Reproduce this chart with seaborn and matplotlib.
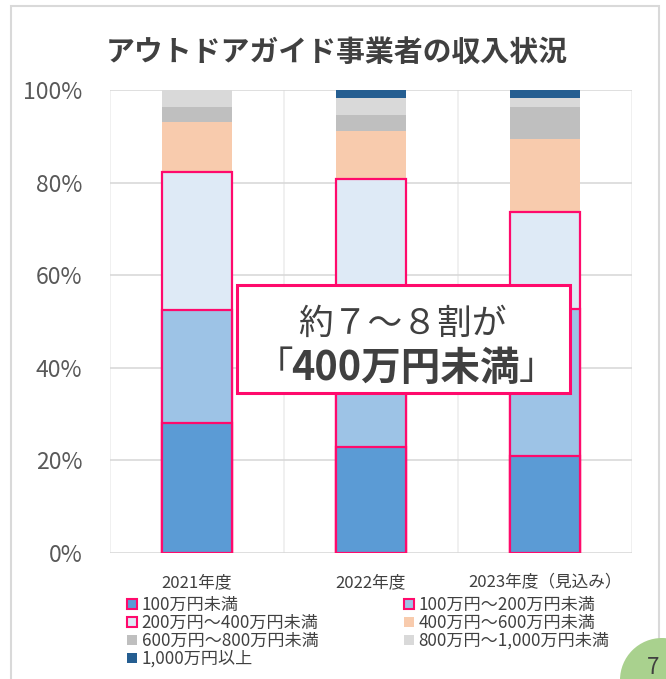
import numpy as np
import pandas as pd
import matplotlib
matplotlib.use('Agg')
import matplotlib.pyplot as plt
import seaborn as sns
from matplotlib.patches import Patch, Rectangle, Ellipse
from matplotlib.ticker import PercentFormatter

# データ（グラフから読み取った値, %）
years = ['2021年度', '2022年度', '2023年度（見込み）']
under_100 = [28.0, 22.9, 21.0]
r100_200 = [24.5, 28.1, 31.6]
r200_400 = [29.8, 29.7, 21.0]
r400_600 = [10.8, 10.5, 15.8]
r600_800 = [3.2, 3.5, 7.0]
r800_1000 = [3.7, 3.5, 1.8]
over_1000 = [0.0, 1.8, 1.8]

series_names = ['100万円未満', '100万円～200万円未満', '200万円～400万円未満',
                '400万円～600万円未満', '600万円～800万円未満',
                '800万円～1,000万円未満', '1,000万円以上']
series_colors = ['#5B9BD5', '#9DC3E6', '#DEEAF6', '#F8CBAD', '#BFBFBF', '#D9D9D9', '#255E91']
PINK = '#FF0A6C'
edged = [True, True, True, False, False, False, False]

sns.set_theme(style='white')
plt.rcParams['font.family'] = ['Noto Sans CJK JP', 'DejaVu Sans']

W, H = 666, 679
fig = plt.figure(figsize=(W / 100, H / 100), dpi=100)


def px(x, y):
    return x / W, 1 - y / H


ax_l, ax_b = px(110, 553)
ax_r, ax_t = px(632, 90)
ax = fig.add_axes([ax_l, ax_b, ax_r - ax_l, ax_t - ax_b])

df = pd.DataFrame({'year': years})
values = [under_100, r100_200, r200_400, r400_600, r600_800, r800_1000, over_1000]
cum = np.cumsum(np.array(values), axis=0) / 100.0

# 累積値を上の系列から順に重ねて描く（積み上げ棒）
for i in range(len(values) - 1, -1, -1):
    df['v'] = cum[i]
    sns.barplot(data=df, x='year', y='v', color=series_colors[i], saturation=1,
                width=0.40, edgecolor=PINK if edged[i] else 'none',
                linewidth=1.6 if edged[i] else 0, ax=ax, zorder=3)

ax.set_ylim(0, 1)
ax.set_xlim(-0.5, 2.5)
ax.yaxis.set_major_formatter(PercentFormatter(1.0, decimals=0))
ax.set_yticks(np.arange(0, 1.01, 0.2))
ax.set_xlabel('')
ax.set_ylabel('')
for s in ax.spines.values():
    s.set_visible(False)
ax.grid(True, axis='y', color='#D9D9D9', linewidth=1.2, zorder=0)
for xv in [-0.5, 0.5, 1.5, 2.5]:
    ax.axvline(xv, color='#EDEDED', linewidth=1.2, zorder=0)
ax.tick_params(axis='y', labelsize=16.5, labelcolor='#595959', length=0, pad=20)
ax.tick_params(axis='x', labelsize=12, labelcolor='#404040', length=0, pad=15)

# タイトル
tx, ty = px(337, 52)
fig.text(tx, ty, 'アウトドアガイド事業者の収入状況', ha='center', va='center',
         fontsize=20.8, fontweight='bold', color='#404040')

# 凡例
handles = []
for name, c, e in zip(series_names, series_colors, edged):
    handles.append(Patch(facecolor=c, edgecolor=PINK if e else c, linewidth=1.5 if e else 0, label=name))
order = [0, 2, 4, 6, 1, 3, 5]
lx, ly = px(127, 596)
fig.legend([handles[i] for i in order], [series_names[i] for i in order],
           loc='upper left', bbox_to_anchor=(lx, ly), ncol=2, frameon=False,
           fontsize=12.3, handlelength=0.6, handleheight=0.6, handletextpad=0.25,
           labelspacing=0.0, columnspacing=5.0, labelcolor='#404040',
           borderpad=0, borderaxespad=0)

# 注記ボックス
bx0, by0 = px(237, 393)
bx1, by1 = px(570, 285)
fig.add_artist(Rectangle((bx0, by0), bx1 - bx0, by1 - by0, transform=fig.transFigure,
                         facecolor='white', edgecolor=PINK, linewidth=2.2, zorder=5))
t1x, t1y = px(402, 324)
fig.text(t1x, t1y, '約７～８割が', ha='center', va='center', fontsize=25,
         color='#404040', zorder=6)
t2x, t2y = px(405, 368)
fig.text(t2x, t2y, '400万円未満', ha='center', va='center', fontsize=28.5,
         fontweight='bold', color='#404040', zorder=6)
lbx, lby = px(293, 368)
fig.text(lbx, lby, '「', ha='right', va='center', fontsize=27, color='#404040', zorder=6)
rbx, rby = px(519, 368)
fig.text(rbx, rby, '」', ha='left', va='center', fontsize=27, color='#404040', zorder=6)

# 外枠とページ番号
fx0, fy0 = px(11, 720)
fx1, fy1 = px(659, 6)
fig.add_artist(Rectangle((fx0, fy0), fx1 - fx0, fy1 - fy0, transform=fig.transFigure,
                         facecolor='none', edgecolor='#D9D9D9', linewidth=1.5, zorder=1))
cx, cy = px(662, 680)
fig.add_artist(Ellipse((cx, cy), 84 / W, 84 / H, transform=fig.transFigure,
                       facecolor='#A9D18E', edgecolor='none', zorder=2))
nx, ny = px(653, 667)
fig.text(nx, ny, '7', ha='center', va='center', fontsize=16, color='#404040', zorder=3)

fig.savefig('out.png', dpi=100, facecolor='white')
